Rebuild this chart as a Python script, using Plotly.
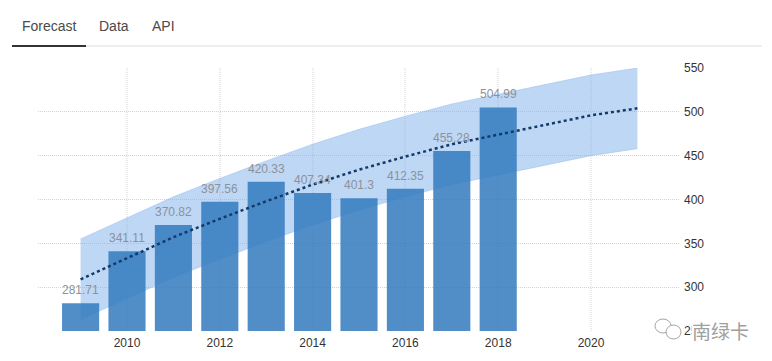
import plotly.graph_objects as go

bar_years = [2009, 2010, 2011, 2012, 2013, 2014, 2015, 2016, 2017, 2018]
bar_values = [281.71, 341.11, 370.82, 397.56, 420.33, 407.34, 401.3, 412.35, 455.28, 504.99]
bar_labels = ["281.71", "341.11", "370.82", "397.56", "420.33", "407.34", "401.3", "412.35", "455.28", "504.99"]
fc_years = [2009, 2010, 2011, 2012, 2013, 2014, 2015, 2016, 2017, 2018, 2019, 2020, 2021]
fc_mean = [309, 333, 357, 378, 398, 417, 434, 449, 463, 474, 485, 496, 504]
fc_upper = [355, 379, 403, 424, 444, 463, 480, 495, 509, 520, 531, 542, 550]
fc_lower = [263, 287, 311, 332, 352, 371, 388, 403, 417, 428, 439, 450, 458]
x_ticks = [2010, 2012, 2014, 2016, 2018, 2020]
y_ticks = [250, 300, 350, 400, 450, 500, 550]
tabs = ["Forecast", "Data", "API"]

W, H = 772, 361
L, R, T, B = 38, 680, 68, 331
def px(x): return (x - L) / (R - L)
def py(y): return (B - y) / (B - T)

fig = go.Figure()
fig.add_trace(go.Scatter(x=fc_years, y=fc_upper, mode="lines", line=dict(color="rgba(150,190,235,0.5)", width=1)))
fig.add_trace(go.Scatter(x=fc_years, y=fc_lower, mode="lines", line=dict(color="rgba(150,190,235,0.5)", width=1),
                         fill="tonexty", fillcolor="rgba(125,175,235,0.5)"))
fig.add_trace(go.Bar(x=bar_years, y=bar_values, marker=dict(color="rgba(50,122,190,0.85)", line=dict(width=0)),
                     width=0.8, xaxis="x2", yaxis="y2"))
fig.add_trace(go.Scatter(x=fc_years, y=fc_mean, mode="lines", line=dict(color="#123a6a", width=2.5, dash="dot"),
                         xaxis="x2", yaxis="y2"))

font = dict(family="Liberation Sans", size=12, color="#333333")
x_range = [2010 + (L - 127) / 46.4, 2010 + (R - 127) / 46.4]
fig.update_layout(
    width=W, height=H, autosize=False, showlegend=False,
    paper_bgcolor="white", plot_bgcolor="white",
    margin=dict(l=L, r=W - R, t=T, b=H - B),
    xaxis=dict(range=x_range, tickvals=x_ticks, ticktext=[str(v) for v in x_ticks],
               showgrid=True, gridcolor="#e9e9e9", griddash="1px,1px", gridwidth=2, zeroline=False,
               showline=False, ticks="", tickfont=font, ticklabelstandoff=3),
    yaxis=dict(range=[250, 550], side="right", tickvals=y_ticks, ticktext=[str(v) for v in y_ticks],
               showgrid=True, gridcolor="#d2d2d2", griddash="1px,1px", gridwidth=1, zeroline=False,
               showline=False, ticks="", tickfont=font, ticklabelstandoff=3),
    xaxis2=dict(range=x_range, overlaying="x", matches="x", visible=False),
    yaxis2=dict(range=[250, 550], overlaying="y", matches="y", visible=False),
)

for yr, val, lab in zip(bar_years, bar_values, bar_labels):
    fig.add_annotation(text=lab, xref="x", yref="y", x=yr, y=val, showarrow=False, yanchor="bottom", yshift=4,
                       font=dict(family="Liberation Sans", size=12, color="#8b9299"))

for label, cx in zip(tabs, [49, 114, 163.5]):
    fig.add_annotation(text=label, xref="paper", yref="paper", x=px(cx), y=py(26), showarrow=False,
                       xanchor="center", yanchor="middle",
                       font=dict(family="Liberation Sans", size=14, color="#4a4a4a"))
fig.add_annotation(text="南绿卡", xref="paper", yref="paper", x=px(720), y=py(330), showarrow=False,
                   xanchor="center", yanchor="middle", bgcolor="white", borderpad=0,
                   font=dict(family="Noto Sans CJK SC", size=19, color="#a0a0a0"))

def line(x0, y0, x1, y1, color, width):
    fig.add_shape(type="line", xref="paper", yref="paper", x0=px(x0), y0=py(y0), x1=px(x1), y1=py(y1),
                  line=dict(color=color, width=width))
def circle(x0, y0, x1, y1):
    fig.add_shape(type="circle", xref="paper", yref="paper", x0=px(x0), y0=py(y0), x1=px(x1), y1=py(y1),
                  line=dict(color="#a5a5a5", width=1), fillcolor="rgba(255,255,255,0.9)")
line(12, 46, 762, 46, "#dcdcdc", 1)
line(12, 46, 86, 46, "#333333", 2)
circle(655, 319, 671, 333)
circle(666, 325, 681, 339)

fig.write_html("out.html", config=dict(displayModeBar=False),
               post_script="document.body.style.margin='0';document.body.style.overflow='hidden';")
